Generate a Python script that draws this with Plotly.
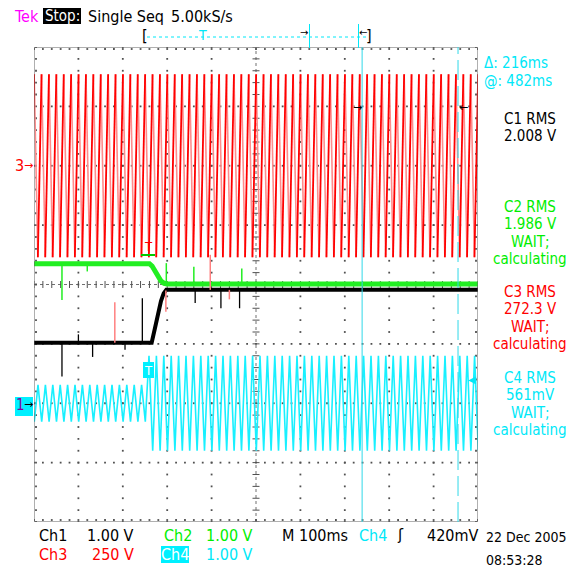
import numpy as np
import plotly.graph_objects as go

W, H = 576, 571
PX0, PX1 = 34, 478      # plot area (pixels)
PY0, PY1 = 47, 522

# ---------------- data ----------------
x_range_ms = [0, 1000]          # 10 div x 100 ms
y_range_div = [-4, 4]           # 8 vertical divisions
trigger_ms = [257]
cursor_ms = [739, 955]          # @ 482 ms after trigger, delta 216 ms

ch_label = ["Ch1", "Ch2", "Ch3", "Ch4"]
ch_volts_per_div = [1.0, 1.0, 250.0, 1.0]
ch_offset_div = [-2.0, -2.0, 2.0, -2.0]

# Ch1 (black) level in volts
ch1_t = [0, 265, 272, 279, 286, 292, 298, 1000]
ch1_v = [1.02, 1.02, 1.25, 1.50, 1.72, 1.85, 1.91, 1.91]
ch1_spike_t = [63, 132, 100, 205, 244, 363, 421, 463]
ch1_spike_v = [0.45, 0.78, 1.16, 0.90, 1.77, 1.69, 1.60, 1.60]

# Ch2 (green) level in volts
ch2_t = [0, 260, 266, 272, 279, 286, 293, 300, 1000]
ch2_v = [2.35, 2.35, 2.31, 2.24, 2.14, 2.06, 2.02, 2.01, 2.01]
ch2_spike_t = [63, 200, 298, 120, 360, 468]
ch2_spike_v = [1.74, 2.38, 2.36, 2.22, 2.30, 2.27]

# pink overlay spikes (volts on the Ch1/Ch2 scale)
pink_spike_t = [182, 297, 397, 440]
pink_spike_v = [1.70, 1.54, 2.50, 1.75]

# Ch3 (red) mains voltage
ch3_freq_hz = [60]
ch3_peak_v = [385]
ch3_first_peak_ms = [17]

# Ch4 (cyan) current: peak before / after trigger
ch4_freq_hz = [60]
ch4_peak_v = [0.31, 0.80]
ch4_first_peak_ms = [259]

# measurement read-outs
meas_c1 = ["C1 RMS", "2.008 V"]
meas_c2 = ["C2 RMS", "1.986 V", "WAIT;", "calculating"]
meas_c3 = ["C3 RMS", "272.3 V", "WAIT;", "calculating"]
meas_c4 = ["C4 RMS", "561mV", "WAIT;", "calculating"]

# ---------------- helpers ----------------
def to_div(v, ch):
    return np.asarray(v, dtype=float) / ch_volts_per_div[ch] + ch_offset_div[ch]


def zigzag(freq, first_peak, amp_of_t):
    half = 500.0 / freq
    k = np.arange(np.floor((x_range_ms[0] - first_peak) / half) - 1,
                  np.ceil((x_range_ms[1] - first_peak) / half) + 2)
    t = first_peak + k * half
    sign = np.where(k % 2 == 0, 1.0, -1.0)
    a = np.array([amp_of_t(tt) for tt in t])
    return t, sign * a, sign


def split_edges(t, v, sign):
    rx, ry, fx, fy = [], [], [], []
    for i in range(len(t) - 1):
        if sign[i] < 0:   # rising edge
            rx += [t[i], t[i + 1], None]
            ry += [v[i], v[i + 1], None]
        else:
            fx += [t[i], t[i + 1], None]
            fy += [v[i], v[i + 1], None]
    return rx, ry, fx, fy


def spikes(ts, vs, base_t, base_v, ch):
    xs, ys = [], []
    for t, v in zip(ts, vs):
        b = float(np.interp(t, base_t, base_v))
        xs += [t, t, None]
        ys += [float(to_div(b, ch)), float(to_div(v, ch)), None]
    return xs, ys


def px_x(px):
    return x_range_ms[0] + (px - PX0) / (PX1 - PX0) * (x_range_ms[1] - x_range_ms[0])


def px_y(py):
    return y_range_div[1] - (py - PY0) / (PY1 - PY0) * (y_range_div[1] - y_range_div[0])


fig = go.Figure()

# ---------------- graticule ----------------
GRID = "#505050"
minor_y = np.arange(-4, 4.001, 0.2)
minor_x = np.arange(0, 1000.1, 20)
gx, gy = [], []
for k in range(1, 10):
    if k == 5:
        continue
    gx += [k * 100] * len(minor_y)
    gy += list(minor_y)
for k in range(-3, 4):
    if k == 0:
        continue
    gx += list(minor_x)
    gy += [k] * len(minor_x)
fig.add_trace(go.Scatter(x=gx, y=gy, mode="markers", hoverinfo="skip",
                         marker=dict(symbol="square", size=1.8, color=GRID, line_width=0)))

# centre cross lines (dense dots) + ticks
fig.add_shape(type="line", x0=0, x1=1000, y0=0, y1=0, xref="x", yref="y",
              line=dict(color="#707070", width=1, dash="dot"), layer="below")
fig.add_shape(type="line", x0=500, x1=500, y0=-4, y1=4, xref="x", yref="y",
              line=dict(color="#707070", width=1, dash="dot"), layer="below")
fig.add_trace(go.Scatter(x=list(minor_x), y=[0] * len(minor_x), mode="markers", hoverinfo="skip",
                         marker=dict(symbol="line-ns", size=5, line=dict(color=GRID, width=1))))
fig.add_trace(go.Scatter(x=[500] * len(minor_y), y=list(minor_y), mode="markers", hoverinfo="skip",
                         marker=dict(symbol="line-ew", size=5, line=dict(color=GRID, width=1))))
# border ticks
dxp = px_x(PX0 + 2) - px_x(PX0)
dyp = px_y(PY0) - px_y(PY0 + 2)
fig.add_trace(go.Scatter(
    x=list(minor_x) + list(minor_x) + [dxp] * len(minor_y) + [1000 - dxp] * len(minor_y),
    y=[4 - dyp] * len(minor_x) + [-4 + dyp] * len(minor_x) + list(minor_y) + list(minor_y),
    mode="markers", hoverinfo="skip",
    marker=dict(symbol="square", size=1.8, color=GRID, line_width=0)))

fig.add_shape(type="rect", x0=0, x1=1000, y0=-4, y1=4, xref="x", yref="y",
              line=dict(color="#606060", width=1), layer="above")

# ---------------- Ch3 (red) ----------------
t3, v3, s3 = zigzag(ch3_freq_hz[0], ch3_first_peak_ms[0], lambda t: ch3_peak_v[0])
rx, ry, fx, fy = split_edges(t3, to_div(v3, 2), s3)
fig.add_trace(go.Scatter(x=fx, y=fy, mode="lines", hoverinfo="skip",
                         line=dict(color="#ff8c8c", width=1.6)))
fig.add_trace(go.Scatter(x=rx, y=ry, mode="lines", hoverinfo="skip",
                         line=dict(color="#ff0000", width=1.8)))

# ---------------- Ch2 (green) ----------------
fig.add_trace(go.Scatter(x=ch2_t, y=to_div(ch2_v, 1), mode="lines", hoverinfo="skip",
                         line=dict(color="#22ee22", width=5)))
sx, sy = spikes(ch2_spike_t, ch2_spike_v, ch2_t, ch2_v, 1)
fig.add_trace(go.Scatter(x=sx, y=sy, mode="lines", hoverinfo="skip",
                         line=dict(color="#22ee22", width=1.5)))

# ---------------- Ch1 (black) ----------------
fig.add_trace(go.Scatter(x=ch1_t, y=to_div(ch1_v, 0), mode="lines", hoverinfo="skip",
                         line=dict(color="#000000", width=4)))
sx, sy = spikes(ch1_spike_t, ch1_spike_v, ch1_t, ch1_v, 0)
fig.add_trace(go.Scatter(x=sx, y=sy, mode="lines", hoverinfo="skip",
                         line=dict(color="#000000", width=1.3)))
sx, sy = spikes(pink_spike_t, pink_spike_v, ch1_t, ch1_v, 0)
fig.add_trace(go.Scatter(x=sx, y=sy, mode="lines", hoverinfo="skip",
                         line=dict(color="#ff8080", width=1.5)))

# ---------------- Ch4 (cyan) ----------------
t4, v4, s4 = zigzag(ch4_freq_hz[0], ch4_first_peak_ms[0],
                    lambda t: ch4_peak_v[0] if t < trigger_ms[0] - 5 else ch4_peak_v[1])
c4 = to_div(v4, 3)
fig.add_trace(go.Scatter(x=t4, y=c4, mode="lines", hoverinfo="skip",
                         line=dict(color="#18f0ff", width=1.6)))

# ---------------- cursors ----------------
fig.add_shape(type="line", x0=cursor_ms[0], x1=cursor_ms[0], y0=-4, y1=4, xref="x", yref="y",
              line=dict(color="#30d8e8", width=1))
fig.add_shape(type="line", x0=cursor_ms[1], x1=cursor_ms[1], y0=-4, y1=4, xref="x", yref="y",
              line=dict(color="#30d8e8", width=1, dash="20px,6px"))

# ---------------- texts ----------------
FONT = "DejaVu Sans Condensed, Liberation Sans Narrow, Arial Narrow, sans-serif"
ann = []


def txt(x, y, s, color="#000000", size=16, anchor="left", font=FONT, h=None):
    d = dict(x=x / W, y=1 - y / H, xref="paper", yref="paper", text=s,
             showarrow=False, xanchor=anchor, yanchor="middle",
             font=dict(family=font, size=size, color=color))
    if h is not None:
        d["height"] = h
    ann.append(d)


def box(x0, y0, x1, y1, color):
    fig.add_shape(type="rect", xref="paper", yref="paper",
                  x0=x0 / W, x1=x1 / W, y0=1 - y1 / H, y1=1 - y0 / H,
                  fillcolor=color, line_width=0, layer="above")


CYAN_T = "#00e8f8"
GREEN_T = "#00ee00"
RED_T = "#ff0000"

# header
txt(12, 16, "Tek", "#ff00ff", 16)
box(43, 8, 81, 24, "#000000")
txt(62, 16, "Stop:", "#ffffff", 15, "center")
txt(86, 16, "Single Seq", "#000000", 16)
txt(169, 16, "5.00kS/s", "#000000", 16)

# record bar
fig.add_shape(type="line", xref="paper", yref="paper", x0=147 / W, x1=366 / W,
              y0=1 - 37 / H, y1=1 - 37 / H, line=dict(color=CYAN_T, width=1, dash="dot"))
fig.add_shape(type="line", xref="paper", yref="paper", x0=309.5 / W, x1=309.5 / W,
              y0=1 - 24 / H, y1=1 - 48 / H, line=dict(color=CYAN_T, width=1))
fig.add_shape(type="line", xref="paper", yref="paper", x0=358.5 / W, x1=358.5 / W,
              y0=1 - 24 / H, y1=1 - 48 / H, line=dict(color=CYAN_T, width=1))
txt(145, 35, "[", "#000000", 16, "center")
txt(369, 35, "]", "#000000", 16, "center")
txt(202, 35, "T", CYAN_T, 14, "center")
txt(304, 33, "→", "#000000", 10, "center", "DejaVu Sans")
txt(363, 33, "←", "#000000", 10, "center", "DejaVu Sans")

# cursor arrows on screen
txt(357, 107, "→", "#000000", 11, "center", "DejaVu Sans")
txt(463, 107, "←", "#000000", 11, "center", "DejaVu Sans")

# ground markers
txt(19, 165, "3", RED_T, 16, "center")
txt(28, 165, "→", RED_T, 11, "center", "DejaVu Sans")
box(15, 397, 33, 416, "#00f0ff")
txt(20, 405, "1", "#8000a0", 15, "center")
txt(28, 404, "→", "#000000", 11, "center", "DejaVu Sans")
txt(472, 379, "◀", CYAN_T, 10, "center", "DejaVu Sans")

# trigger markers
txt(148, 246, "T", RED_T, 13, "center")
fig.add_shape(type="line", xref="paper", yref="paper", x0=141 / W, x1=155 / W,
              y0=1 - 255 / H, y1=1 - 255 / H, line=dict(color="#00cc00", width=2))
box(143, 362, 154, 378, "#00f0ff")
txt(148.5, 370, "T", "#ffffff", 13, "center")

# right panel
txt(482, 63, "Δ: 216ms", CYAN_T, 15, h=16)
txt(482, 81, "@: 482ms", CYAN_T, 15, h=16)
for lines, y0, color in [(meas_c1, 119, "#000000"), (meas_c2, 207, GREEN_T),
                         (meas_c3, 292, RED_T), (meas_c4, 378, CYAN_T)]:
    for i, s in enumerate(lines):
        txt(530, y0 + 17.3 * i, s, color, 15, "center", h=16)

# bottom status
txt(37, 535, ch_label[0], "#000000", 16)
txt(85, 535, "1.00 V", "#000000", 16)
txt(162, 535, ch_label[1], GREEN_T, 16)
txt(204, 535, "1.00 V", GREEN_T, 16)
txt(280, 535, "M 100ms", "#000000", 16)
txt(357, 535, ch_label[3], CYAN_T, 16)
txt(395, 535, "ʃ", "#000000", 15, "left", "DejaVu Sans")
txt(425, 535, "420mV", "#000000", 16)
txt(37, 554, ch_label[2], RED_T, 16)
txt(90, 554, "250 V", RED_T, 16)
box(161, 546, 189, 563, "#00f0ff")
txt(175, 554, ch_label[3], "#ffffff", 16, "center")
txt(204, 554, "1.00 V", CYAN_T, 16)
txt(484, 537, "22 Dec 2005", "#000000", 14)
txt(484, 560, "08:53:28", "#000000", 14)

fig.update_layout(
    width=W, height=H, margin=dict(l=0, r=0, t=0, b=0),
    paper_bgcolor="#ffffff", plot_bgcolor="#ffffff", showlegend=False,
    annotations=ann,
    xaxis=dict(range=x_range_ms, domain=[PX0 / W, PX1 / W], visible=False, fixedrange=True),
    yaxis=dict(range=y_range_div, domain=[1 - PY1 / H, 1 - PY0 / H], visible=False, fixedrange=True),
)

fig.write_html("out.html", config={"displayModeBar": False},
               post_script="document.body.style.margin='0';document.body.style.overflow='hidden';")
